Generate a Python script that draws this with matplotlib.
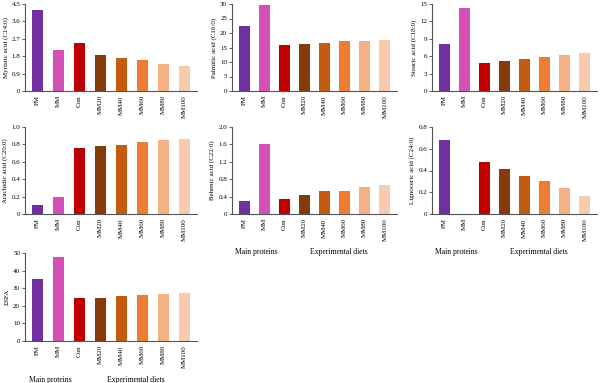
import matplotlib.pyplot as plt
import numpy as np

plt.rcParams['font.family'] = ['Liberation Serif', 'DejaVu Serif']

# --- Data ---
groups = ["FM", "MM", "Con", "MM20", "MM40", "MM60", "MM80", "MM100"]
colors = ["#7030A0", "#D64FB4", "#C00000", "#843C0C", "#C55A11", "#ED7D31", "#F4B183", "#F8CBAD"]

myristic = [4.2, 2.1, 2.5, 1.85, 1.7, 1.58, 1.42, 1.3]
palmitic = [22.3, 29.7, 15.7, 16.1, 16.6, 17.2, 17.3, 17.7]
stearic = [8.1, 14.3, 4.8, 5.2, 5.6, 5.9, 6.2, 6.6]
arachidic = [0.1, 0.2, 0.76, 0.78, 0.79, 0.83, 0.85, 0.86]
behenic = [0.3, 1.61, 0.35, 0.44, 0.52, 0.54, 0.63, 0.66]
lignoceric = [0.68, 0.0, 0.48, 0.41, 0.35, 0.30, 0.24, 0.17]
sfa = [35.5, 48.0, 24.5, 24.6, 25.6, 26.3, 26.8, 27.3]

W, H = 600, 383
fig = plt.figure(figsize=(W / 100, H / 100), dpi=100)

# (values, ylabel, yticks, ticklabels, left, right, top, bottom, group labels?)
panels = [
    (myristic, "Myristic acid (C14:0)", [0, 0.9, 1.8, 2.7, 3.6, 4.5], ["0", "0.9", "1.8", "2.7", "3.6", "4.5"], 25, 197, 4, 91, False),
    (palmitic, "Palmitic acid (C16:0)", [0, 5, 10, 15, 20, 25, 30], None, 232, 397, 4, 91, False),
    (stearic, "Stearic acid (C18:0)", [0, 3, 6, 9, 12, 15], None, 432, 597, 4, 91, False),
    (arachidic, "Arachidic acid (C20:0)", [0, 0.2, 0.4, 0.6, 0.8, 1.0], ["0", "0.2", "0.4", "0.6", "0.8", "1.0"], 25, 197, 127, 214, False),
    (behenic, "Behenic acid (C22:0)", [0, 0.4, 0.8, 1.2, 1.6, 2.0], ["0", "0.4", "0.8", "1.2", "1.6", "2.0"], 232, 397, 127, 214, True),
    (lignoceric, "Lignoceric acid (C24:0)", [0, 0.2, 0.4, 0.6, 0.8], ["0", "0.2", "0.4", "0.6", "0.8"], 432, 597, 127, 214, True),
    (sfa, "ΣSFA", [0, 10, 20, 30, 40, 50], None, 25, 197, 253, 341, True),
]

x = np.arange(len(groups))
for vals, ylab, yt, ytl, l, r, t, b, glab in panels:
    ax = fig.add_axes([l / W, 1 - b / H, (r - l) / W, (b - t) / H])
    ax.bar(x, vals, width=0.55, color=colors)
    ax.set_xlim(-0.6, 7.6)
    ax.set_ylim(yt[0], yt[-1])
    ax.set_yticks(yt)
    if ytl:
        ax.set_yticklabels(ytl)
    ax.set_xticks(x)
    ax.set_xticklabels(groups, rotation=90)
    ax.tick_params(axis="x", length=0, labelsize=5, pad=3)
    ax.tick_params(axis="y", length=2, width=0.6, labelsize=5, pad=1.5, color="#444444")
    ax.set_ylabel(ylab, fontsize=5, labelpad=2)
    for s in ["top", "right"]:
        ax.spines[s].set_visible(False)
    for s in ["left", "bottom"]:
        ax.spines[s].set_color("#555555")
        ax.spines[s].set_linewidth(0.8)
    if glab:
        tr = ax.get_xaxis_transform()
        ax.text(0.6, -0.44, "Main proteins", transform=tr, ha="center", va="center", fontsize=5.5)
        ax.text(4.7, -0.44, "Experimental diets", transform=tr, ha="center", va="center", fontsize=5.5)

fig.savefig("out.png", dpi=100)
